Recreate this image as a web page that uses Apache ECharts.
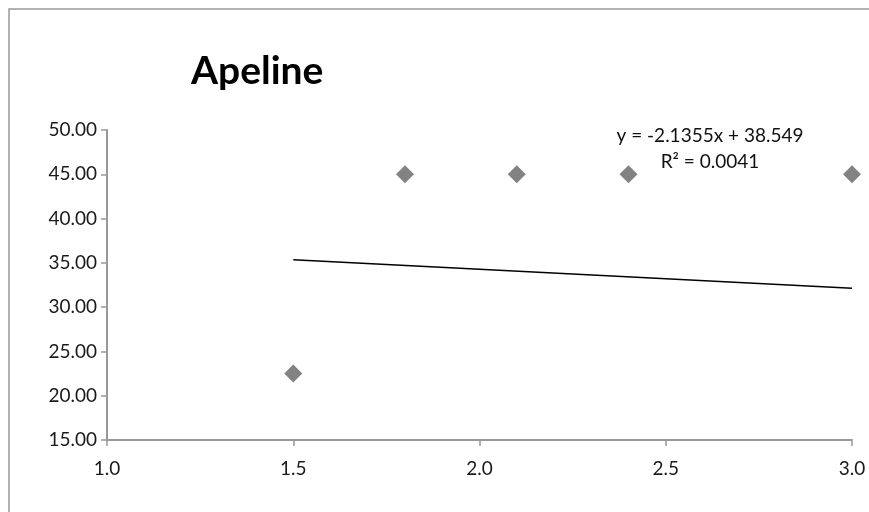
<!DOCTYPE html>
<html><head><meta charset="utf-8">
<script src="https://cdn.jsdelivr.net/npm/echarts@6/dist/echarts.min.js"></script>
<style>html,body{margin:0;padding:0;background:#fff}#c{width:869px;height:512px}</style>
</head><body><div id="c"></div>
<script>
const xValues = [1.5, 1.8, 2.1, 2.4, 3.0];
const yValues = [22.5, 45, 45, 45, 45];
const trendSlope = -2.1355;
const trendIntercept = 38.549;
const trendRange = [1.5, 3.0];
const equationText = 'y = -2.1355x + 38.549';
const r2Text = 'R² = 0.0041';
const titleText = 'Apeline';

const font = 'Lato, "Open Sans", sans-serif';
const chart = echarts.init(document.getElementById('c'));
chart.setOption({
  animation: false,
  backgroundColor: '#fff',
  title: {text: titleText, left: 186, top: 47, textStyle: {fontFamily: font, fontSize: 39, fontWeight: 'bold', color: '#000'}},
  grid: {left: 107, right: 17, top: 130, bottom: 72},
  xAxis: {type: 'value', min: 1.0, max: 3.0, interval: 0.5,
    axisLine: {lineStyle: {color: '#999', width: 2}},
    axisTick: {show: true, length: 6, lineStyle: {color: '#999', width: 1.5}},
    axisLabel: {formatter: v => v.toFixed(1), fontFamily: font, fontSize: 19, color: '#1a1a1a', margin: 19},
    splitLine: {show: false}},
  yAxis: {type: 'value', min: 15, max: 50, interval: 5,
    axisLine: {show: true, lineStyle: {color: '#999', width: 2}},
    axisTick: {show: true, length: 6, lineStyle: {color: '#999', width: 1.5}},
    axisLabel: {formatter: v => v.toFixed(2), fontFamily: font, fontSize: 19, color: '#1a1a1a', margin: 10},
    splitLine: {show: false}},
  graphic: [
    {type: 'rect', shape: {x: 9, y: 9, width: 880, height: 520}, style: {fill: 'none', stroke: '#999', lineWidth: 1.5}, z: -1},
    {type: 'text', style: {text: equationText, x: 710, y: 136, align: 'center', verticalAlign: 'middle', font: '19px ' + font, fill: '#111'}},
    {type: 'text', style: {text: r2Text, x: 710, y: 162, align: 'center', verticalAlign: 'middle', font: '19px ' + font, fill: '#111'}}
  ],
  series: [
    {type: 'scatter', data: xValues.map((x, i) => [x, yValues[i]]), symbol: 'diamond', symbolSize: 18,
      itemStyle: {color: '#636363'}, z: 3},
    {type: 'line', data: trendRange.map(x => [x, trendSlope * x + trendIntercept]), symbol: 'none',
      lineStyle: {color: '#000', width: 1.5}, z: 2}
  ]
});
</script></body></html>
